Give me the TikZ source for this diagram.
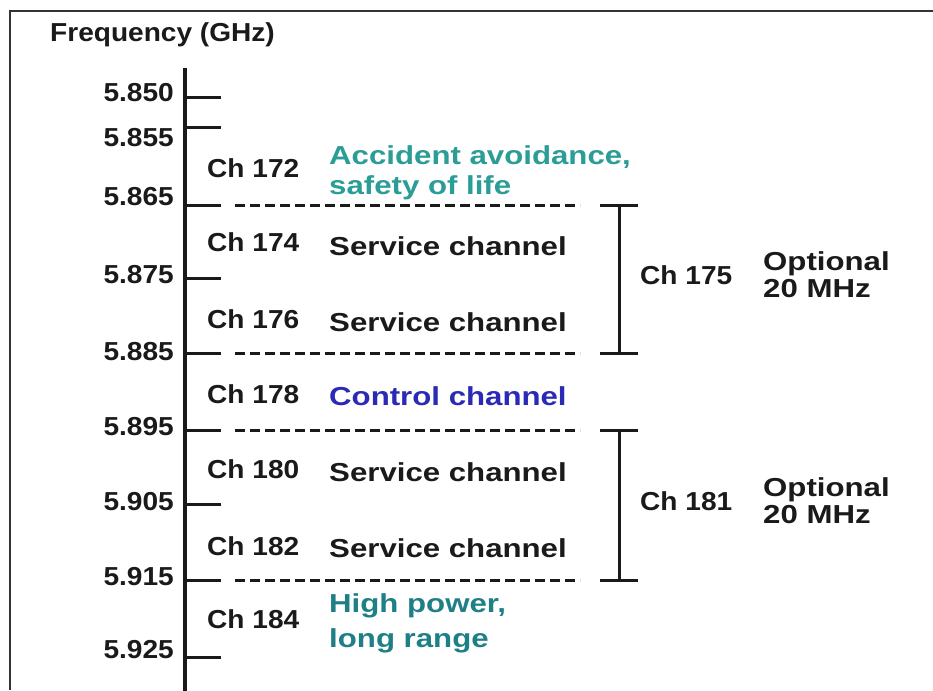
\documentclass[tikz,border=0pt]{standalone}
\usepackage{fontspec}
\setmainfont{Liberation Sans}[FakeStretch=1.08]
\newfontfamily\descfont{Liberation Sans}[FakeStretch=1.2]
\definecolor{txt}{HTML}{1A1A1A}
\definecolor{safety}{HTML}{2A9D96}
\definecolor{highpow}{HTML}{1E7F86}
\definecolor{ctrl}{HTML}{2A2AB5}
\definecolor{frame}{HTML}{333333}
\begin{document}
\begin{tikzpicture}[x=1pt,y=-1pt,
  lbl/.style={inner sep=0pt,text=txt,font=\bfseries\fontsize{26}{30}\selectfont},
  freq/.style={lbl,anchor=base east},
  chl/.style={lbl,anchor=base west},
  desc/.style={inner sep=0pt,anchor=base west,text=txt,font=\descfont\bfseries\fontsize{26}{30}\selectfont},
  axisline/.style={line width=4pt,txt},
  tickline/.style={line width=3pt,txt},
  sepline/.style={line width=3pt,txt,dash pattern=on 10pt off 5pt},
  bracketline/.style={line width=3pt,txt}]
\useasboundingbox (0,0) rectangle (933,690);
\fill[white] (0,0) rectangle (933,690);
% frame
\coordinate (ftr) at (933,11);
\coordinate (ftl) at (10,11);
\coordinate (fbl) at (10,690);
\draw[line width=2pt,frame] (ftr) -- (ftl) -- (fbl);
% title
\node[lbl,anchor=base west] (title) at (50,42) {Frequency (GHz)};
% axis
\coordinate (atop) at (185,68);
\coordinate (abot) at (185,692);
\draw[axisline] (atop) -- (abot);
% ticks
\foreach \n/\y in {a/98,b/127,c/205,d/278,e/353,f/430,g/504,h/580,i/657}{
  \coordinate (t\n) at (185,\y);
  \coordinate (u\n) at (221,\y);
  \draw[tickline] (t\n) -- (u\n);
}
% dashed separators
\foreach \n/\y in {c/205,e/353,f/430,h/580}{
  \coordinate (s\n) at (235,\y);
  \coordinate (e\n) at (580,\y);
  \draw[sepline] (s\n) -- (e\n);
}
% frequency labels
\node[freq] (f850) at (174,102) {5.850};
\node[freq] (f855) at (174,146) {5.855};
\node[freq] (f865) at (174,205) {5.865};
\node[freq] (f875) at (174,283) {5.875};
\node[freq] (f885) at (174,360) {5.885};
\node[freq] (f895) at (174,435) {5.895};
\node[freq] (f905) at (174,510) {5.905};
\node[freq] (f915) at (174,585) {5.915};
\node[freq] (f925) at (174,658) {5.925};
% channel labels
\node[chl] (c172) at (207,177) {Ch 172};
\node[chl] (c174) at (207,251) {Ch 174};
\node[chl] (c176) at (207,328) {Ch 176};
\node[chl] (c178) at (207,403) {Ch 178};
\node[chl] (c180) at (207,478) {Ch 180};
\node[chl] (c182) at (207,555) {Ch 182};
\node[chl] (c184) at (207,628) {Ch 184};
% descriptions
\node[desc,text=safety] (d172a) at (329,164) {Accident avoidance,};
\node[desc,text=safety] (d172b) at (329,194) {safety of life};
\node[desc] (d174) at (329,255) {Service channel};
\node[desc] (d176) at (329,331) {Service channel};
\node[desc,text=ctrl] (d178) at (329,405) {Control channel};
\node[desc] (d180) at (329,481) {Service channel};
\node[desc] (d182) at (329,557) {Service channel};
\node[desc,text=highpow] (d184a) at (329,612) {High power,};
\node[desc,text=highpow] (d184b) at (329,647) {long range};
% brackets
\foreach \n/\ya/\yb in {p/205/353,q/430/580}{
  \coordinate (bl\n) at (600,\ya); \coordinate (br\n) at (638,\ya);
  \coordinate (bm\n) at (619,\ya); \coordinate (bn\n) at (619,\yb);
  \coordinate (cl\n) at (600,\yb); \coordinate (cr\n) at (638,\yb);
  \draw[bracketline] (bl\n) -- (br\n);
  \draw[bracketline] (bm\n) -- (bn\n);
  \draw[bracketline] (cl\n) -- (cr\n);
}
\node[chl] (c175) at (640,284) {Ch 175};
\node[desc] (o175a) at (763,270) {Optional};
\node[desc] (o175b) at (763,297) {20 MHz};
\node[chl] (c181) at (640,510) {Ch 181};
\node[desc] (o181a) at (763,496) {Optional};
\node[desc] (o181b) at (763,523) {20 MHz};
\end{tikzpicture}
\end{document}
